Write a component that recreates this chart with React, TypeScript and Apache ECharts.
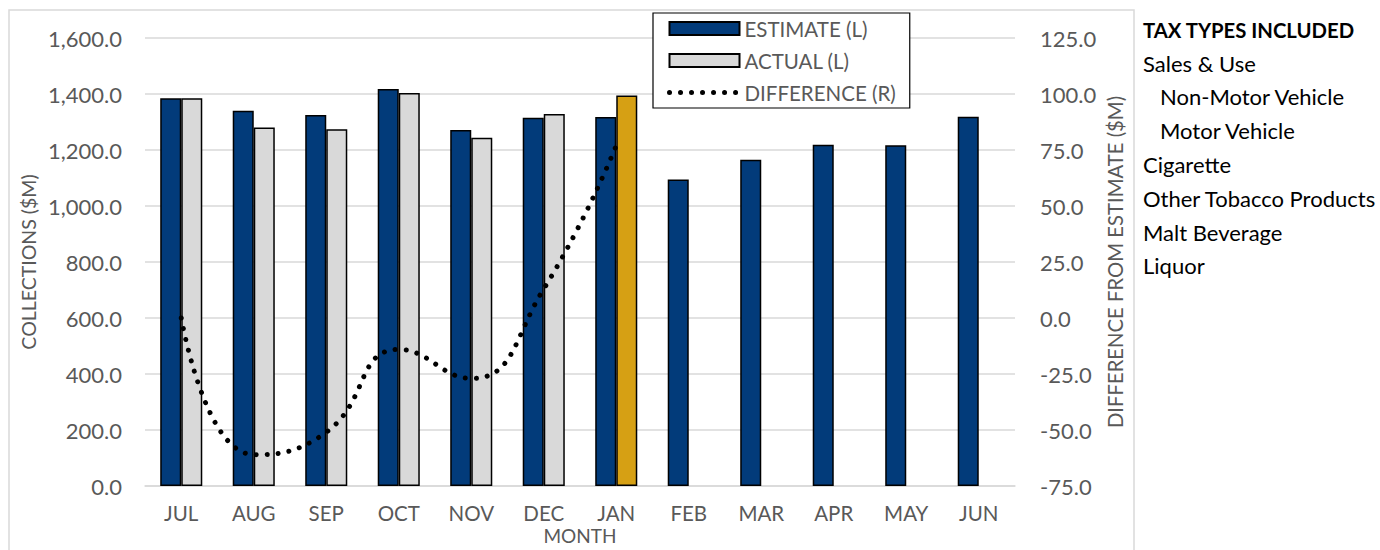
import React, { useEffect, useRef } from "react";
import * as echarts from "echarts";

const months = ["JUL", "AUG", "SEP", "OCT", "NOV", "DEC", "JAN", "FEB", "MAR", "APR", "MAY", "JUN"];
const estimate = [1385, 1340, 1325, 1418, 1271, 1315, 1318, 1095, 1165, 1219, 1217, 1319];
const actual = [1385, 1280, 1274, 1404, 1244, 1329, 1395];
const difference = [0, -61, -51, -14, -27, 13, 77];
const currentMonthIndex = 6;
const taxTypesTitle = "TAX TYPES INCLUDED";
const taxTypes = [
  { label: "Sales & Use", indent: 0 },
  { label: "Non-Motor Vehicle", indent: 1 },
  { label: "Motor Vehicle", indent: 1 },
  { label: "Cigarette", indent: 0 },
  { label: "Other Tobacco Products", indent: 0 },
  { label: "Malt Beverage", indent: 0 },
  { label: "Liquor", indent: 0 },
];

const NAVY = "#023b7a";
const GRAY = "#d9d9d9";
const GOLD = "#d6a014";
const TEXT = "#595959";
const FONT = "Lato, 'Noto Sans', sans-serif";

const fmt = (v: number) =>
  v.toLocaleString("en-US", { minimumFractionDigits: 1, maximumFractionDigits: 1 });

export default function App() {
  const ref = useRef<HTMLDivElement>(null);
  useEffect(() => {
    if (!ref.current) return;
    const chart = echarts.init(ref.current, undefined, { renderer: "svg" });
    const actualData = actual.map((v, i) =>
      i === currentMonthIndex ? { value: v, itemStyle: { color: GOLD } } : v
    );
    const dotted = { color: "#000", width: 5, type: [0.01, 11], cap: "round" };
    const panelX = 1143;
    const graphics: any[] = [
      {
        type: "rect",
        shape: { x: 9, y: 10, width: 1125, height: 560 },
        style: { fill: "none", stroke: GRAY, lineWidth: 1.5 },
        z: -10,
        silent: true,
      },
      {
        type: "text",
        x: panelX,
        y: 30,
        style: {
          text: taxTypesTitle,
          font: `bold 20.3px ${FONT}`,
          fill: "#000",
          verticalAlign: "middle",
        },
      },
      ...taxTypes.map((t, i) => ({
        type: "text",
        x: panelX + t.indent * 17,
        y: 63 + i * 33.8,
        style: {
          text: t.label,
          font: `22px ${FONT}`,
          fill: "#000",
          verticalAlign: "middle",
        },
      })),
    ];

    chart.setOption({
      animation: false,
      textStyle: { fontFamily: FONT },
      grid: { left: 145, right: 365, top: 38, bottom: 64, outerBoundsMode: "none" },
      legend: {
        orient: "vertical",
        left: 653,
        top: 13,
        backgroundColor: "#fff",
        borderColor: "#000",
        borderWidth: 1.2,
        borderRadius: 0,
        padding: [5, 14, 5, 14],
        itemWidth: 70,
        itemHeight: 13,
        itemGap: 11,
        textStyle: { color: TEXT, fontSize: 20.5, fontFamily: FONT },
        data: [
          { name: "ESTIMATE (L)", icon: "rect" },
          { name: "ACTUAL (L)", icon: "rect" },
          { name: "DIFFERENCE (R)", itemStyle: { opacity: 0 }, lineStyle: dotted },
        ],
      },
      xAxis: {
        type: "category",
        data: months,
        axisLine: { show: true, lineStyle: { color: GRAY, width: 1.5 } },
        axisTick: { show: false },
        axisLabel: { color: TEXT, fontSize: 20.5, margin: 16 },
        name: "MONTH",
        nameLocation: "middle",
        nameGap: 40,
        nameMoveOverlap: false,
        nameTextStyle: { color: TEXT, fontSize: 19 },
      },
      yAxis: [
        {
          type: "value",
          min: 0,
          max: 1600,
          interval: 200,
          axisLine: { show: false },
          axisTick: { show: false },
          axisLabel: { color: TEXT, fontSize: 22, margin: 23, formatter: (v: number) => fmt(v) },
          splitLine: { lineStyle: { color: GRAY, width: 1.5 } },
          name: "COLLECTIONS ($M)",
          nameLocation: "middle",
          nameRotate: 90,
          nameGap: 107,
          nameMoveOverlap: false,
          nameTextStyle: { color: TEXT, fontSize: 19.5 },
        },
        {
          type: "value",
          min: -75,
          max: 125,
          interval: 25,
          position: "right",
          axisLine: { show: false },
          axisTick: { show: false },
          axisLabel: { color: TEXT, fontSize: 22, margin: 25, formatter: (v: number) => fmt(v) },
          splitLine: { show: false },
          name: "DIFFERENCE FROM ESTIMATE ($M)",
          nameLocation: "middle",
          nameRotate: 90,
          nameGap: 90,
          nameMoveOverlap: false,
          nameTextStyle: { color: TEXT, fontSize: 20.3 },
        },
      ],
      series: [
        {
          name: "ESTIMATE (L)",
          type: "bar",
          data: estimate,
          barGap: "0%",
          barCategoryGap: "42%",
          itemStyle: { color: NAVY, borderColor: "#000", borderWidth: 1.5 },
        },
        {
          name: "ACTUAL (L)",
          type: "bar",
          data: actualData,
          itemStyle: { color: GRAY, borderColor: "#000", borderWidth: 1.5 },
        },
        {
          name: "DIFFERENCE (R)",
          type: "line",
          yAxisIndex: 1,
          data: difference,
          smooth: 0.5,
          symbol: "none",
          z: 5,
          itemStyle: { color: "#000" },
          lineStyle: dotted,
        },
      ],
      graphic: graphics,
    });
    return () => chart.dispose();
  }, []);
  return (
    <div
      ref={ref}
      style={{ position: "fixed", left: 0, top: 0, width: 1380, height: 550, background: "#fff" }}
    />
  );
}
